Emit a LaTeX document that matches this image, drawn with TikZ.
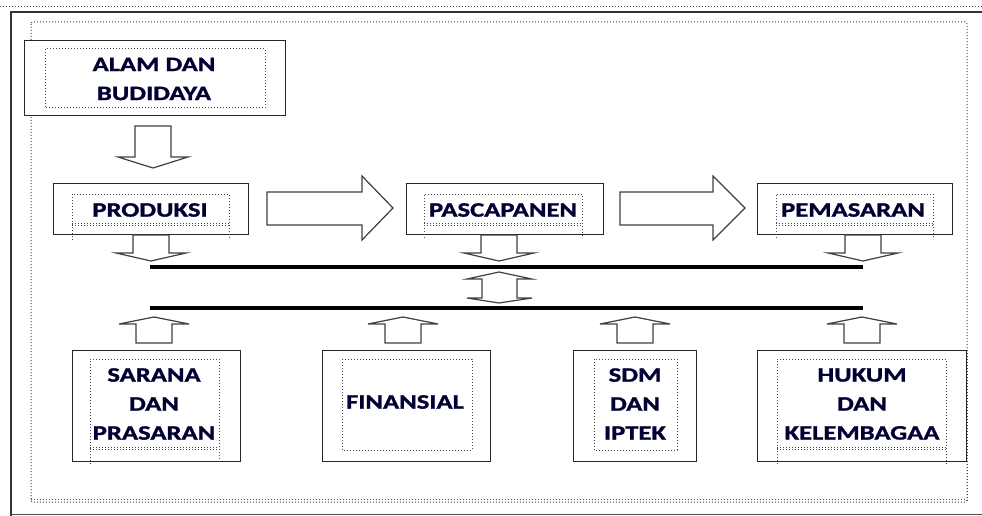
\documentclass[tikz,border=0pt]{standalone}
\usepackage{fontspec}
\newfontfamily\lblfont[FakeStretch=1.3,BoldFeatures={FakeBold=1.3}]{Carlito}
\newcommand{\DotLegs}[5]{%
  \draw[dotbox] (#1,#5) -- (#1,#2) -- (#3,#2) -- (#3,#5);
  \draw[dotbox] (#1,#4) -- (#3,#4);
  \draw[dotbox] (#1,#4+2.2) -- (#3,#4+2.2);}
\newcommand{\DArr}[4]{%
  \draw[barrow] (#1-18,#2) -- (#1+18,#2) -- (#1+18,#3) -- (#1+35,#3) -- (#1,#4) -- (#1-35,#3) -- (#1-18,#3) -- cycle;}
\newcommand{\UArr}[4]{%
  \draw[barrow] (#1-18,#2) -- (#1+18,#2) -- (#1+18,#3) -- (#1+35,#3) -- (#1,#4) -- (#1-35,#3) -- (#1-18,#3) -- cycle;}
\begin{document}
\begin{tikzpicture}[x=1pt,y=-1pt,
  solidbox/.style={draw=black!85,line width=1.3pt,fill=white,inner sep=0pt,anchor=north west},
  dotbox/.style={draw=black!72,dotted,line width=1pt},
  barrow/.style={draw=black!75,line width=1.2pt,fill=white,line join=miter},
  lbl/.style={font=\lblfont\bfseries\fontsize{20.5}{29}\selectfont,align=center,text=black!80!blue,inner sep=0pt},
  bar/.style={line width=4pt,draw=black}]
\useasboundingbox (0,0) rectangle (982,516);
% frame
\draw[dotbox] (0,7) -- (982,7);
\draw[black!80,line width=1.3pt] (11,516) -- (11,12) -- (982,12);
\draw[black!70,line width=1pt] (11,514.5) -- (982,514.5);
\draw[dotbox,rounded corners=2pt] (31,22) rectangle (967,502);
\draw[dotbox] (31,499.8) -- (967,499.8);
% top box
\node[solidbox,minimum width=261pt,minimum height=75pt] (alambox) at (24,40) {};
\draw[dotbox] (45,49) rectangle (265,108);
\node[lbl] (alam) at (154,79) {ALAM DAN\\BUDIDAYA};
\DArr{153}{126}{157}{168}
% row 2
\node[solidbox,minimum width=195pt,minimum height=51pt] (prodbox) at (53,183) {};
\DotLegs{72}{194}{229}{223}{240}
\node[lbl] (prod) at (150,210) {PRODUKSI};
\node[solidbox,minimum width=197pt,minimum height=51pt] (pascabox) at (406,183) {};
\DotLegs{424}{194}{582}{223}{238}
\node[lbl] (pasca) at (503,210) {PASCAPANEN};
\node[solidbox,minimum width=195pt,minimum height=51pt] (pemabox) at (757,183) {};
\DotLegs{776}{194}{933}{223}{238}
\node[lbl] (pema) at (853,210) {PEMASARAN};
% big right arrows
\draw[barrow] (267,192) -- (362,192) -- (362,176) -- (393,208) -- (362,240) -- (362,225) -- (267,225) -- cycle;
\draw[barrow] (620,192) -- (713,192) -- (713,176) -- (745,208) -- (713,240) -- (713,225) -- (620,225) -- cycle;
% down arrows
\DArr{151}{235}{253}{261}
\DArr{499}{235}{253}{261}
\DArr{863}{235}{253}{261}
% bars
\coordinate (b1l) at (150,267); \coordinate (b1r) at (863,267);
\coordinate (b2l) at (150,308); \coordinate (b2r) at (863,308);
\draw[bar] (b1l) -- (b1r);
\draw[bar] (b2l) -- (b2r);
% double arrow
\draw[barrow] (499,272) -- (532,279) -- (517,279) -- (517,298) -- (532,298) -- (499,303) -- (467,298) -- (482,298) -- (482,279) -- (467,279) -- cycle;
% up arrows
\UArr{154}{343}{324}{317}
\UArr{403}{343}{324}{317}
\UArr{635}{343}{324}{317}
\UArr{862}{343}{324}{317}
% bottom boxes
\node[solidbox,minimum width=168pt,minimum height=111pt] (sarbox) at (72,350) {};
\DotLegs{90}{359}{219}{447}{464}
\node[lbl] (sar) at (154,404) {SARANA\\DAN\\PRASARAN};
\node[solidbox,minimum width=168pt,minimum height=111pt] (finbox) at (322,350) {};
\draw[dotbox] (342,359) rectangle (472,450);
\node[lbl] (fin) at (405,402) {FINANSIAL};
\node[solidbox,minimum width=123pt,minimum height=111pt] (sdmbox) at (573,350) {};
\draw[dotbox] (594,359) rectangle (677,450);
\node[lbl] (sdm) at (635,404) {SDM\\DAN\\IPTEK};
\node[solidbox,minimum width=209pt,minimum height=111pt] (hukbox) at (757,350) {};
\DotLegs{777}{359}{946}{447}{464}
\node[lbl] (huk) at (862,404) {HUKUM\\DAN\\KELEMBAGAA};
\draw[dotbox] (967,350) -- (967,502);
\end{tikzpicture}
\end{document}
